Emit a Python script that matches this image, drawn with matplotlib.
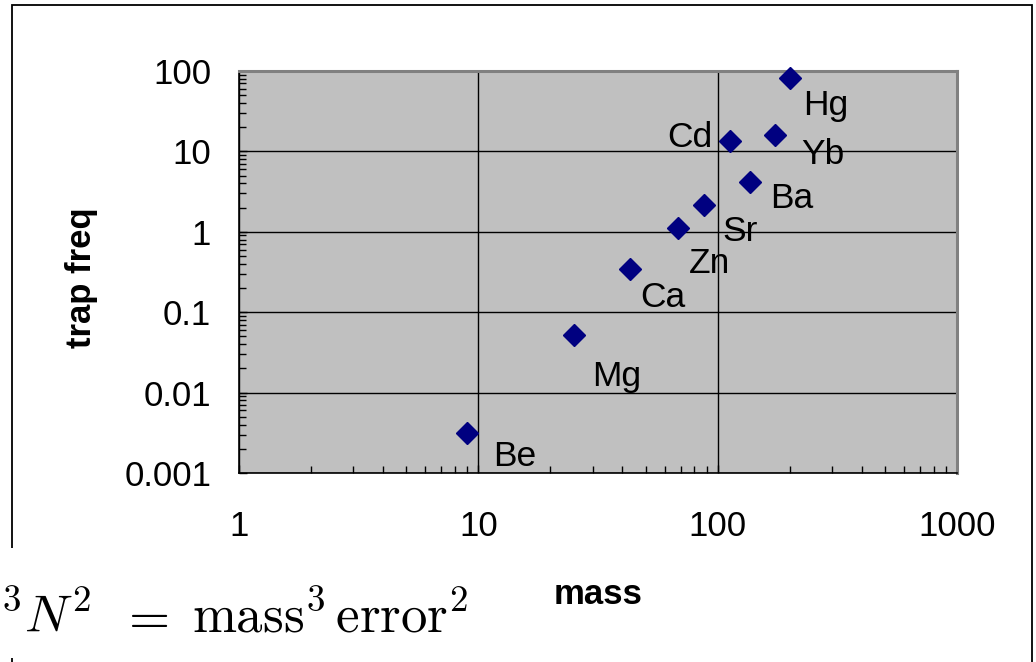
import matplotlib
matplotlib.use("Agg")
import matplotlib.pyplot as plt
from matplotlib.patches import Rectangle
from matplotlib.ticker import FixedLocator, FixedFormatter, LogLocator, NullFormatter

# ---- data ----
elements = ["Be", "Mg", "Ca", "Zn", "Sr", "Cd", "Ba", "Yb", "Hg"]
masses = [9, 25, 43, 68, 88, 113, 137, 174, 200]
trap_freq = [0.00317, 0.0516, 0.347, 1.1, 2.13, 13.3, 4.17, 16.2, 81]
x_ticks = [1, 10, 100, 1000]
x_tick_labels = ["1", "10", "100", "1000"]
y_ticks = [0.001, 0.01, 0.1, 1, 10, 100]
y_tick_labels = ["0.001", "0.01", "0.1", "1", "10", "100"]

# label offsets in pixels (dx, dy) and horizontal alignment
label_offsets = {
    "Be": (26, -33, "left"), "Mg": (19, -51, "left"), "Ca": (10, -38, "left"),
    "Zn": (11, -45, "left"), "Sr": (18, -36, "left"), "Cd": (-18, -6, "right"),
    "Ba": (20, -26, "left"), "Yb": (26, -29, "left"), "Hg": (13, -37, "left"),
}

plt.rcParams['font.family'] = ['Liberation Sans', 'DejaVu Sans']
plt.rcParams['mathtext.fontset'] = 'cm'

W, H = 1036, 662
fig = plt.figure(figsize=(W / 100, H / 100), dpi=100)
fig.patch.set_facecolor("white")

def fx(px):
    return px / W

def fy(py):
    return 1 - py / H

# outer chart frame
frame = Rectangle((fx(12), fy(720)), fx(1032) - fx(12), fy(5) - fy(720),
                  transform=fig.transFigure, fill=False, edgecolor="black",
                  linewidth=1.3, zorder=0)
fig.add_artist(frame)

ax = fig.add_axes([fx(239), fy(473), fx(957) - fx(239), fy(71) - fy(473)])
ax.set_facecolor("#C0C0C0")
ax.set_xscale("log")
ax.set_yscale("log")
ax.set_xlim(1, 1000)
ax.set_ylim(0.001, 100)

ax.xaxis.set_major_locator(FixedLocator(x_ticks))
ax.xaxis.set_major_formatter(FixedFormatter(x_tick_labels))
ax.yaxis.set_major_locator(FixedLocator(y_ticks))
ax.yaxis.set_major_formatter(FixedFormatter(y_tick_labels))
ax.xaxis.set_minor_locator(LogLocator(base=10, subs=range(2, 10), numticks=20))
ax.yaxis.set_minor_locator(LogLocator(base=10, subs=range(2, 10), numticks=20))
ax.xaxis.set_minor_formatter(NullFormatter())
ax.yaxis.set_minor_formatter(NullFormatter())

ax.tick_params(axis="both", which="major", direction="in", length=6, width=1,
               labelsize=25, color="black")
ax.tick_params(axis="both", which="minor", direction="in", length=5, width=1,
               color="black")
ax.tick_params(axis="x", which="major", pad=27)
ax.tick_params(axis="y", which="major", pad=20)
ax.tick_params(top=False, right=False, which="both")

ax.grid(True, which="major", color="black", linewidth=1.0)
ax.set_axisbelow(True)

for side in ("top", "right"):
    ax.spines[side].set_color("#808080")
    ax.spines[side].set_linewidth(2.2)
for side in ("left", "bottom"):
    ax.spines[side].set_color("black")
    ax.spines[side].set_linewidth(1.2)

ax.plot(masses, trap_freq, linestyle="none", marker="D", markersize=11.5,
        color="#000080", markeredgecolor="#000080", clip_on=False, zorder=5)

for el, m, f in zip(elements, masses, trap_freq):
    dx, dy, ha = label_offsets[el]
    ax.annotate(el, (m, f), xytext=(dx, dy), textcoords="offset pixels",
                ha=ha, va="baseline", fontsize=25.5, color="black", zorder=6,
                annotation_clip=False)

fig.text(fx(82), fy(278), "trap freq", rotation=90, ha="center", va="center",
         fontsize=25, fontweight="bold")
fig.text(fx(598), fy(594), "mass", ha="center", va="center",
         fontsize=25, fontweight="bold")

# white box covering bottom-left, with formula
cover = Rectangle((0, fy(658)), fx(530), fy(548) - fy(658),
                  transform=fig.transFigure, facecolor="white",
                  edgecolor="none", zorder=10)
fig.add_artist(cover)
fs = 38
fig.text(fx(91), fy(632), r"$\ell^3 N^2$",
         ha="right", va="baseline", fontsize=fs, zorder=11)
fig.text(fx(144), fy(632), r"$=$",
         ha="center", va="baseline", fontsize=fs, zorder=11)
fig.text(fx(192), fy(632), r"$\mathrm{mass}^3\,\mathrm{error}^2$",
         ha="left", va="baseline", fontsize=fs, zorder=11)

fig.savefig("out.png", dpi=100, facecolor="white")
